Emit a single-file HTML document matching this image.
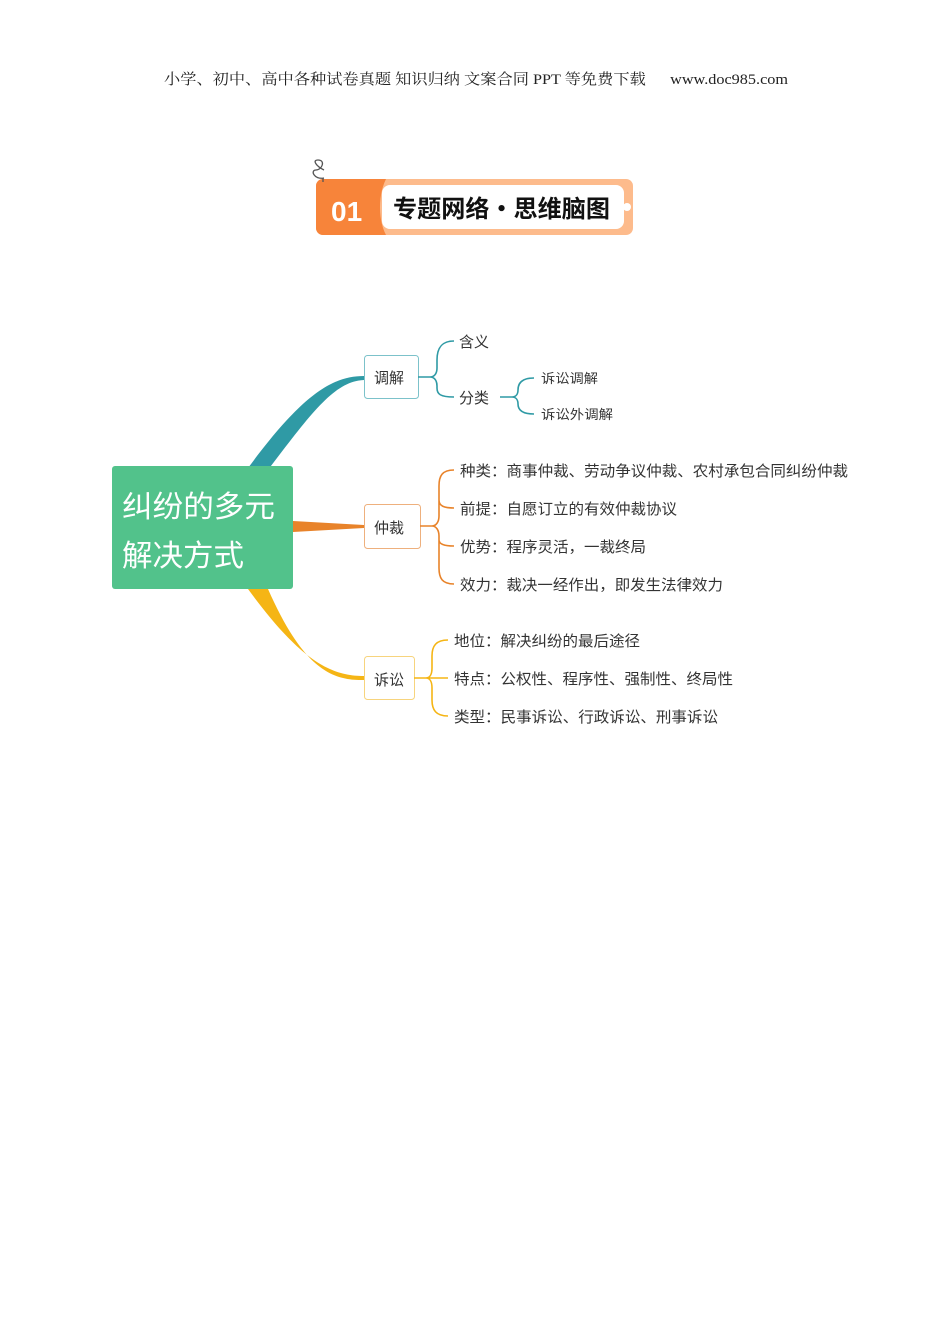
<!DOCTYPE html>
<html><head><meta charset="utf-8"><style>
body{margin:0;width:950px;height:1344px;background:#fff;position:relative;overflow:hidden}
svg{position:absolute;left:0;top:0}
</style></head><body>
<svg width="950" height="1344" xmlns="http://www.w3.org/2000/svg" font-family="'Liberation Sans','Noto Sans CJK SC',sans-serif">
<text x="164" y="84" textLength="624" lengthAdjust="spacingAndGlyphs" font-family="'Liberation Serif','Noto Serif CJK SC',serif" font-size="15" fill="#222">小学、初中、高中各种试卷真题 知识归纳 文案合同 PPT 等免费下载 　 www.doc985.com</text>
<!-- banner -->
<rect x="316" y="179" width="317" height="56" rx="7" fill="#fdbb8c"/>
<path d="M316 186 a7 7 0 0 1 7 -7 H386 C378 195 378 220 386 235 H323 a7 7 0 0 1 -7 -7Z" fill="#f7843a"/>
<rect x="382" y="185" width="242" height="44" rx="8" fill="#fff"/>
<circle cx="627" cy="207" r="4" fill="#fff"/>
<path d="M324 170 c-8 -4 -12 -10 -6 -10 c8 0 4 10 -2 10 c-6 0 -2 10 8 8 M323 178 l0 4" stroke="#555" stroke-width="1.3" fill="none"/>
<text x="331" y="221" font-size="28" font-weight="bold" fill="#fff">01</text>
<text x="393" y="217" textLength="217" lengthAdjust="spacingAndGlyphs" font-size="24" font-weight="bold" fill="#111" font-family="'Noto Sans CJK SC',sans-serif">专题网络·思维脑图</text>
<!-- main branches -->
<path d="M248 468 C300 398 330 376 364 376 L364 380 C335 381 312 412 268 470Z" fill="#2f9aa5"/>
<path d="M293 521 L364 525 L364 528 L293 532Z" fill="#e8832a"/>
<path d="M248 589 C300 660 330 676 364 676 L364 680 C330 681 302 666 268 589Z" fill="#f5b515"/>
<rect x="112" y="466" width="181" height="123" rx="3" fill="#52c28b"/>
<text x="122" y="517" font-size="30" textLength="153" lengthAdjust="spacingAndGlyphs" fill="#fff">纠纷的多元</text>
<text x="122" y="566" font-size="30" textLength="122" lengthAdjust="spacingAndGlyphs" fill="#fff">解决方式</text>
<!-- nodes -->
<g font-size="15" fill="#333">
<rect x="364.5" y="355.5" width="54" height="43" rx="3" fill="#fff" stroke="#7cc2ca"/>
<text x="374" y="383">调解</text>
<rect x="364.5" y="504.5" width="56" height="44" rx="3" fill="#fff" stroke="#eeb07d"/>
<text x="374" y="533">仲裁</text>
<rect x="364.5" y="656.5" width="50" height="43" rx="3" fill="#fff" stroke="#f7d47d"/>
<text x="374" y="685">诉讼</text>
</g>
<!-- brackets -->
<g fill="none" stroke-width="1.6">
<path d="M418 377 H430 M454 341 C440 341 437 350 437 360 V368 C437 374 434 377 430 377 C434 377 437 380 437 386 V388 C437 394 440 397 454 397" stroke="#2f9aa5"/>
<path d="M500 397 H512 M534 378 C522 378 518 383 518 390 C518 394 516 397 512 397 C516 397 518 400 518 404 C518 410 522 414 534 414" stroke="#2f9aa5"/>
<path d="M420 526 H432 M454 470 C442 470 439 476 439 486 V516 C439 522 436 526 432 526 C436 526 439 530 439 536 V568 C439 578 442 584 454 584 M439 500 C439 506 444 508 454 508 M439 540 C439 544 444 546 454 546" stroke="#e8832a"/>
<path d="M414 678 H448 M448 640 C436 640 432 646 432 656 V668 C432 674 430 678 426 678 C430 678 432 682 432 688 V700 C432 710 436 716 448 716" stroke="#f5b515"/>
</g>
<g font-size="15" fill="#333" lengthAdjust="spacingAndGlyphs">
<text x="459" y="347">含义</text>
<text x="459" y="403">分类</text>
<text x="541" y="383" font-size="13" textLength="57" lengthAdjust="spacingAndGlyphs">诉讼调解</text>
<text x="541" y="419" font-size="13" textLength="72" lengthAdjust="spacingAndGlyphs">诉讼外调解</text>
<text x="460" y="476" textLength="388" lengthAdjust="spacingAndGlyphs">种类：商事仲裁、劳动争议仲裁、农村承包合同纠纷仲裁</text>
<text x="460" y="514" textLength="217" lengthAdjust="spacingAndGlyphs">前提：自愿订立的有效仲裁协议</text>
<text x="460" y="552" textLength="186" lengthAdjust="spacingAndGlyphs">优势：程序灵活，一裁终局</text>
<text x="460" y="590" textLength="263" lengthAdjust="spacingAndGlyphs">效力：裁决一经作出，即发生法律效力</text>
<text x="454" y="646" textLength="186" lengthAdjust="spacingAndGlyphs">地位：解决纠纷的最后途径</text>
<text x="454" y="684" textLength="279" lengthAdjust="spacingAndGlyphs">特点：公权性、程序性、强制性、终局性</text>
<text x="454" y="722" textLength="264" lengthAdjust="spacingAndGlyphs">类型：民事诉讼、行政诉讼、刑事诉讼</text>
</g>
</svg>
</body></html>
